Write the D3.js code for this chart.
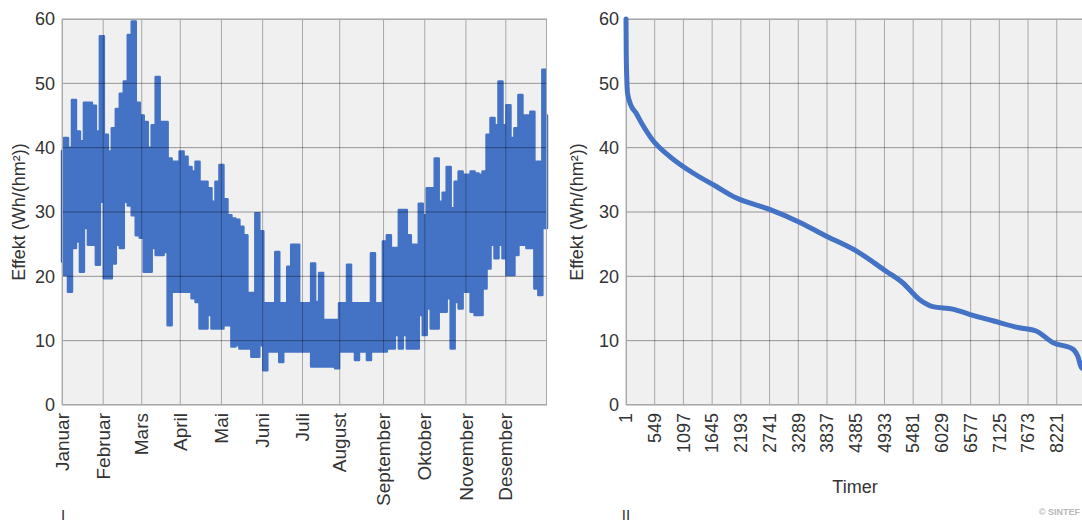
<!DOCTYPE html>
<html>
<head>
<meta charset="utf-8">
<script src="https://cdn.jsdelivr.net/npm/d3@7"></script>
<style>
  body { margin: 0; background: #fff; }
  text { font-family: "Liberation Sans", Arial, sans-serif; fill: #333; }
</style>
</head>
<body>
<div id="chart"></div>
<script>
// ---- data ----
var months = ["Januar", "Februar", "Mars", "April", "Mai", "Juni", "Juli",
  "August", "September", "Oktober", "November", "Desember"];
var monthStartHours = [0, 744, 1440, 2136, 2880, 3624, 4344, 5016, 5808, 6552, 7296, 8016];

// day of year for the sampled envelope of the hourly series
var sampleDays = [0, 3, 6, 9, 12, 15, 18, 21, 24, 27, 30, 33, 36, 39, 42, 45, 48, 51, 54, 57,
  60, 63, 66, 69, 72, 75, 78, 81, 84, 87, 90, 93, 96, 99, 102, 105, 108, 111, 114, 117, 120,
  123, 126, 129, 132, 135, 138, 141, 144, 147, 150, 153, 156, 159, 162, 165, 168, 171, 174, 177,
  180, 183, 186, 189, 192, 195, 198, 201, 204, 207, 210, 213, 216, 219, 222, 225, 228, 231, 234,
  237, 240, 243, 246, 249, 252, 255, 258, 261, 264, 267, 270, 273, 276, 279, 282, 285, 288, 291,
  294, 297, 300, 303, 306, 309, 312, 315, 318, 321, 324, 327, 330, 333, 336, 339, 342, 345, 348,
  351, 354, 357, 360, 363, 365];
var effektHigh = [39.5, 41.5, 40, 47.4, 42.5, 41, 47, 47, 46.5, 42.5, 57.3, 42, 39.4, 43, 46, 48.4,
  50.3, 57.5, 59.6, 47, 45, 44, 40, 43.5, 51, 44, 44, 38.3, 37.8, 37.8, 39.4, 38.6, 37, 36.3, 37.8,
  34.7, 34.7, 33.7, 31.6, 34.7, 37.3,
  32, 29.5, 29, 28.8, 27.7, 26.4, 17.4, 17.4, 29.8, 27, 15.8, 15.8, 15.8, 23.8, 15.8, 15.8, 21.5,
  24.9, 24.9, 15.8, 15.8, 15.8, 22, 16, 20.5, 13.2, 13.2, 13.2, 13.2, 15.8, 15.8, 21.8, 15.8, 15.8,
  15.8, 15.8, 15.8, 23.6, 15.8, 15.8,
  25.4, 26.4, 24.4, 24.4, 30.3, 30.3, 26.4, 24.9, 24.9, 31.3, 29.5, 33.7, 33.7, 38.3, 31.6, 33, 37,
  30.6, 34.7, 36.3, 35.8, 35.8, 36.3, 36, 35.8, 36.3, 42, 44.6, 43.5, 50.3, 43.5, 46.6, 41.5, 43,
  48.2, 45, 45, 45.6, 37.8, 37.8, 52.1, 45];
var effektLow = [22.3, 20.2, 17.6, 24.4, 25.4, 20.7, 27.5, 24.9, 24.9, 21.8, 31.6, 19.7, 19.7, 22,
  24.9, 24.4, 31.6, 31, 29.5, 26.4, 26, 20.7, 20.7, 24.4, 23.3, 23.3, 23.8, 12.4, 17.6, 17.6, 17.6,
  17.6, 17.6, 16.6, 16, 11.9, 11.9, 14, 11.9, 11.9, 11.9,
  12.4, 12.4, 9.1, 9.3, 8.8, 8.8, 8.8, 7.5, 7.5, 9.3, 5.4, 8.3, 8.3, 8.3, 6.7, 8.3, 8.3, 8.3, 8.3,
  8.3, 8.3, 8.3, 6, 6, 6, 6, 6, 6, 5.7, 8.3, 8.3, 8.3, 8.3, 7, 8.3, 8.3, 7, 8.3, 8.3, 8.3,
  8.3, 8.8, 8.8, 10.9, 8.8, 10.9, 8.8, 8.8, 8.8, 14, 10.9, 15, 11.9, 11.9, 14.5, 14.5, 16.6, 8.8,
  16, 15, 17.6, 17.6, 14.5, 14, 14, 18.1, 21.2, 24.9, 22.8, 24.9, 22.8, 20.2, 20.2, 23.3, 24.9,
  24.9, 24.4, 24.4, 18.1, 17.1, 27.5, 27.5];

// duration curve (sorted hourly values)
var durationHours = [1, 5, 15, 30, 100, 191, 300, 508, 827, 1272, 1718, 2100, 2741, 3289, 3837,
  4385, 4964, 5281, 5600, 5854, 6236, 6555, 7000, 7509, 7828, 8145, 8527, 8622, 8693, 8760];
var durationValues = [60, 55, 51, 48.5, 46.5, 45.4, 43.8, 41.2, 38.7, 36.1, 34, 32.2, 30.4, 28.5,
  26.2, 24.0, 20.8, 19.0, 16.4, 15.3, 14.9, 14.1, 13.1, 12.0, 11.5, 9.7, 8.7, 7.6, 5.8, 5.5];

var yTicks = [0, 10, 20, 30, 40, 50, 60];
var hourTicks = [1, 549, 1097, 1645, 2193, 2741, 3289, 3837, 4385, 4933, 5481, 6029, 6577,
  7125, 7673, 8221];

// ---- layout ----
var svgWidth = 1082;
var svgHeight = 522;
var plotTop = 19;
var plotBottom = 405;
var blue = "#4472c4";

var svg = d3.select("#chart")
  .append("svg")
  .attr("width", svgWidth)
  .attr("height", svgHeight);

var yScale = d3.scaleLinear().domain([0, 60]).range([plotBottom, plotTop]);

var xYear = d3.scaleLinear().domain([0, 8760]).range([62, 547]);
var xHours = d3.scaleLinear().domain([1, 8760]).range([626, 1085]);

function plotBackground(x0, x1) {
  svg.append("rect")
    .attr("x", x0).attr("y", plotTop)
    .attr("width", x1 - x0).attr("height", plotBottom - plotTop)
    .attr("fill", "#f0f0f0");
}

function grid(xScale, xValues) {
  var g = svg.append("g");
  g.selectAll(".hgrid")
    .data(yTicks)
    .enter()
    .append("line")
    .attr("x1", xScale.range()[0]).attr("x2", xScale.range()[1])
    .attr("y1", d => yScale(d)).attr("y2", d => yScale(d))
    .attr("stroke", "rgba(0,0,0,0.38)")
    .attr("stroke-width", 1);
  g.selectAll(".vgrid")
    .data(xValues)
    .enter()
    .append("line")
    .attr("x1", d => xScale(d)).attr("x2", d => xScale(d))
    .attr("y1", plotTop).attr("y2", plotBottom)
    .attr("stroke", "rgba(0,0,0,0.3)")
    .attr("stroke-width", 1);
}

function border(x0, x1) {
  svg.append("rect")
    .attr("x", x0 + 0.5).attr("y", plotTop + 0.5)
    .attr("width", x1 - x0 - 1).attr("height", plotBottom - plotTop - 1)
    .attr("fill", "none")
    .attr("stroke", "#a8a8a8");
}

function yLabels(xRight, titleX) {
  svg.append("g").selectAll("text")
    .data(yTicks)
    .enter()
    .append("text")
    .attr("x", xRight)
    .attr("y", d => yScale(d))
    .attr("dy", "0.35em")
    .attr("text-anchor", "end")
    .attr("font-size", 18)
    .text(d => d);

  svg.append("text")
    .attr("transform", `translate(${titleX}, ${(plotTop + plotBottom) / 2}) rotate(-90)`)
    .attr("dy", "0.35em")
    .attr("text-anchor", "middle")
    .attr("font-size", 18)
    .text("Effekt (Wh/(hm²))");
}

function xLabels(xScale, values, labels, size) {
  svg.append("g").selectAll("text")
    .data(values)
    .enter()
    .append("text")
    .attr("transform", d => `translate(${xScale(d)}, 413) rotate(-90)`)
    .attr("dy", "0.35em")
    .attr("text-anchor", "end")
    .attr("font-size", size)
    .text((d, i) => labels[i]);
}

// ---- left chart: hourly power over the year ----
plotBackground(62, 547);

var yearData = sampleDays.map((d, i) => ({ h: d * 24, hi: effektHigh[i], lo: effektLow[i] }));

var band = d3.area()
  .x(d => xYear(d.h))
  .y0(d => yScale(d.lo))
  .y1(d => yScale(d.hi))
  .curve(d3.curveStep);

svg.append("path")
  .datum(yearData)
  .attr("d", band)
  .attr("fill", blue)
  .attr("stroke", blue)
  .attr("stroke-width", 2.5)
  .attr("stroke-linejoin", "round");

grid(xYear, monthStartHours);
border(62, 547);
yLabels(55, 18.5);
xLabels(xYear, monthStartHours, months, 19);

// ---- right chart: duration curve ----
plotBackground(626, 1085);
grid(xHours, hourTicks);
border(626, 1085);

var durationData = durationHours.map((h, i) => ({ h: h, v: durationValues[i] }));

var line = d3.line()
  .x(d => xHours(d.h))
  .y(d => yScale(d.v))
  .curve(d3.curveMonotoneX);

svg.append("path")
  .datum(durationData)
  .attr("d", line)
  .attr("fill", "none")
  .attr("stroke", blue)
  .attr("stroke-width", 5)
  .attr("stroke-linecap", "round");

yLabels(619, 577);
xLabels(xHours, hourTicks, hourTicks, 18);

svg.append("text")
  .attr("x", 855)
  .attr("y", 493)
  .attr("text-anchor", "middle")
  .attr("font-size", 18)
  .text("Timer");

// panel markers and credit
svg.append("text").attr("x", 63).attr("y", 520).attr("text-anchor", "middle")
  .attr("font-size", 15).text("I");
svg.append("text").attr("x", 626).attr("y", 520).attr("text-anchor", "middle")
  .attr("font-size", 15).text("II");
svg.append("text").attr("x", 1080).attr("y", 515).attr("text-anchor", "end")
  .attr("font-size", 9).attr("font-weight", "bold")
  .style("fill", "#b8b8b8").text("© SINTEF");
</script>
</body>
</html>
